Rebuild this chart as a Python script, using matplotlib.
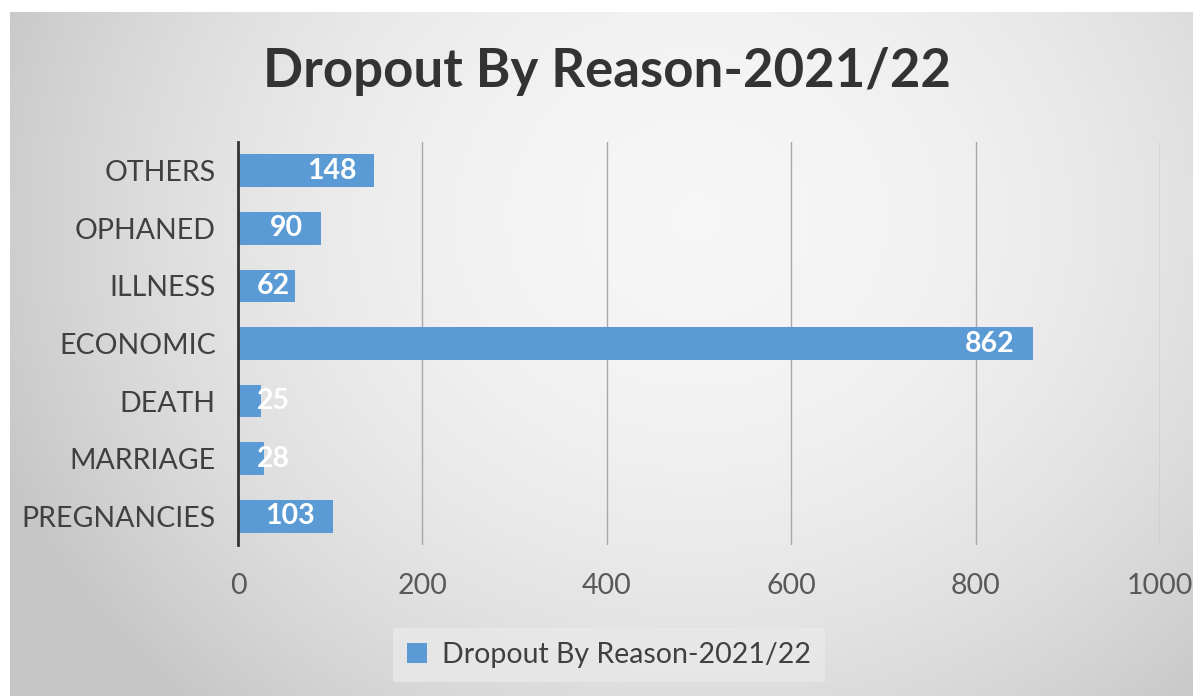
import numpy as np
import matplotlib
matplotlib.use("Agg")
import matplotlib.pyplot as plt
from matplotlib.patches import Patch

categories = ["PREGNANCIES", "MARRIAGE", "DEATH", "ECONOMIC", "ILLNESS", "OPHANED", "OTHERS"]
values = [103, 28, 25, 862, 62, 90, 148]
series_name = "Dropout By Reason-2021/22"
title = "Dropout By Reason-2021/22"
xticks = [0, 200, 400, 600, 800, 1000]

FONT = ["Lato", "DejaVu Sans"]
plt.rcParams['font.family'] = FONT

W, H = 1193, 696
fig = plt.figure(figsize=(W / 100, H / 100), dpi=100)
fig.patch.set_facecolor("white")

# background gradient panel
bg = fig.add_axes([10 / W, 0, 1 - 10 / W, 1 - 12 / H], zorder=-10)
ny, nx = 300, 600
yy, xx = np.mgrid[0:ny, 0:nx]
cx, cy = 0.58 * nx, 0.3 * ny
r2 = ((xx - cx) / (0.62 * nx)) ** 2 + ((yy - cy) / (0.95 * ny)) ** 2
g = np.clip(0.965 - 0.18 * r2, 0.78, 1.0)
bg.imshow(np.dstack([g, g, g]), aspect="auto", extent=[0, 1, 0, 1], origin="upper")
bg.set_axis_off()

ax = fig.add_axes([238 / W, 1 - 545 / H, (1160 - 238) / W, (545 - 142) / H])
ax.patch.set_alpha(0)

bar_color = "#5b9bd5"
y = np.arange(len(categories))
bars = ax.barh(y, values, height=0.57, color=bar_color, zorder=3)

FS = 20.5
ax.set_xlim(0, 1000)
ax.set_ylim(-0.5, len(categories) - 0.5)
ax.set_xticks(xticks)
ax.set_xticklabels([str(t) for t in xticks])
ax.set_yticks(y)
ax.set_yticklabels(categories)
ax.tick_params(axis="both", length=0, labelsize=FS, colors="#595959")
ax.tick_params(axis="x", pad=20)
ax.tick_params(axis="y", pad=16)
for lab in ax.get_yticklabels():
    lab.set_color("#404040")

for t in xticks[1:]:
    ax.axvline(t, color="#a8a8a8", lw=1.0, zorder=1)

for s in ["top", "right", "bottom"]:
    ax.spines[s].set_visible(False)
ax.spines["left"].set_color("#333333")
ax.spines["left"].set_linewidth(2.0)
ax.spines["left"].set_zorder(5)

# data labels (inside end, clamped near axis for short bars)
for yi, v in zip(y, values):
    if v >= 80:
        ax.annotate(str(v), xy=(v, yi), xytext=(-13, 0), textcoords="offset points",
                    ha="right", va="center", color="white", fontsize=FS,
                    fontweight="bold", zorder=6)
    else:
        ax.annotate(str(v), xy=(0, yi), xytext=(13.5, 0), textcoords="offset points",
                    ha="left", va="center", color="white", fontsize=FS,
                    fontweight="bold", zorder=6)

fig.text(607 / W, 1 - 72 / H, title, ha="center", va="center",
         fontsize=38, fontweight="bold", color="#333333")

leg = fig.legend(handles=[Patch(facecolor=bar_color, edgecolor="none")],
                 labels=[series_name], loc="center", bbox_to_anchor=(609 / W, 1 - 655 / H),
                 frameon=True, fontsize=FS, handlelength=0.7, handleheight=0.7,
                 handletextpad=0.5, borderpad=0.5, fancybox=False)
leg.get_frame().set_facecolor("#e9e9e9")
leg.get_frame().set_edgecolor("none")
leg.get_frame().set_alpha(0.8)
for t in leg.get_texts():
    t.set_color("#404040")

fig.savefig("out.png", dpi=100)
